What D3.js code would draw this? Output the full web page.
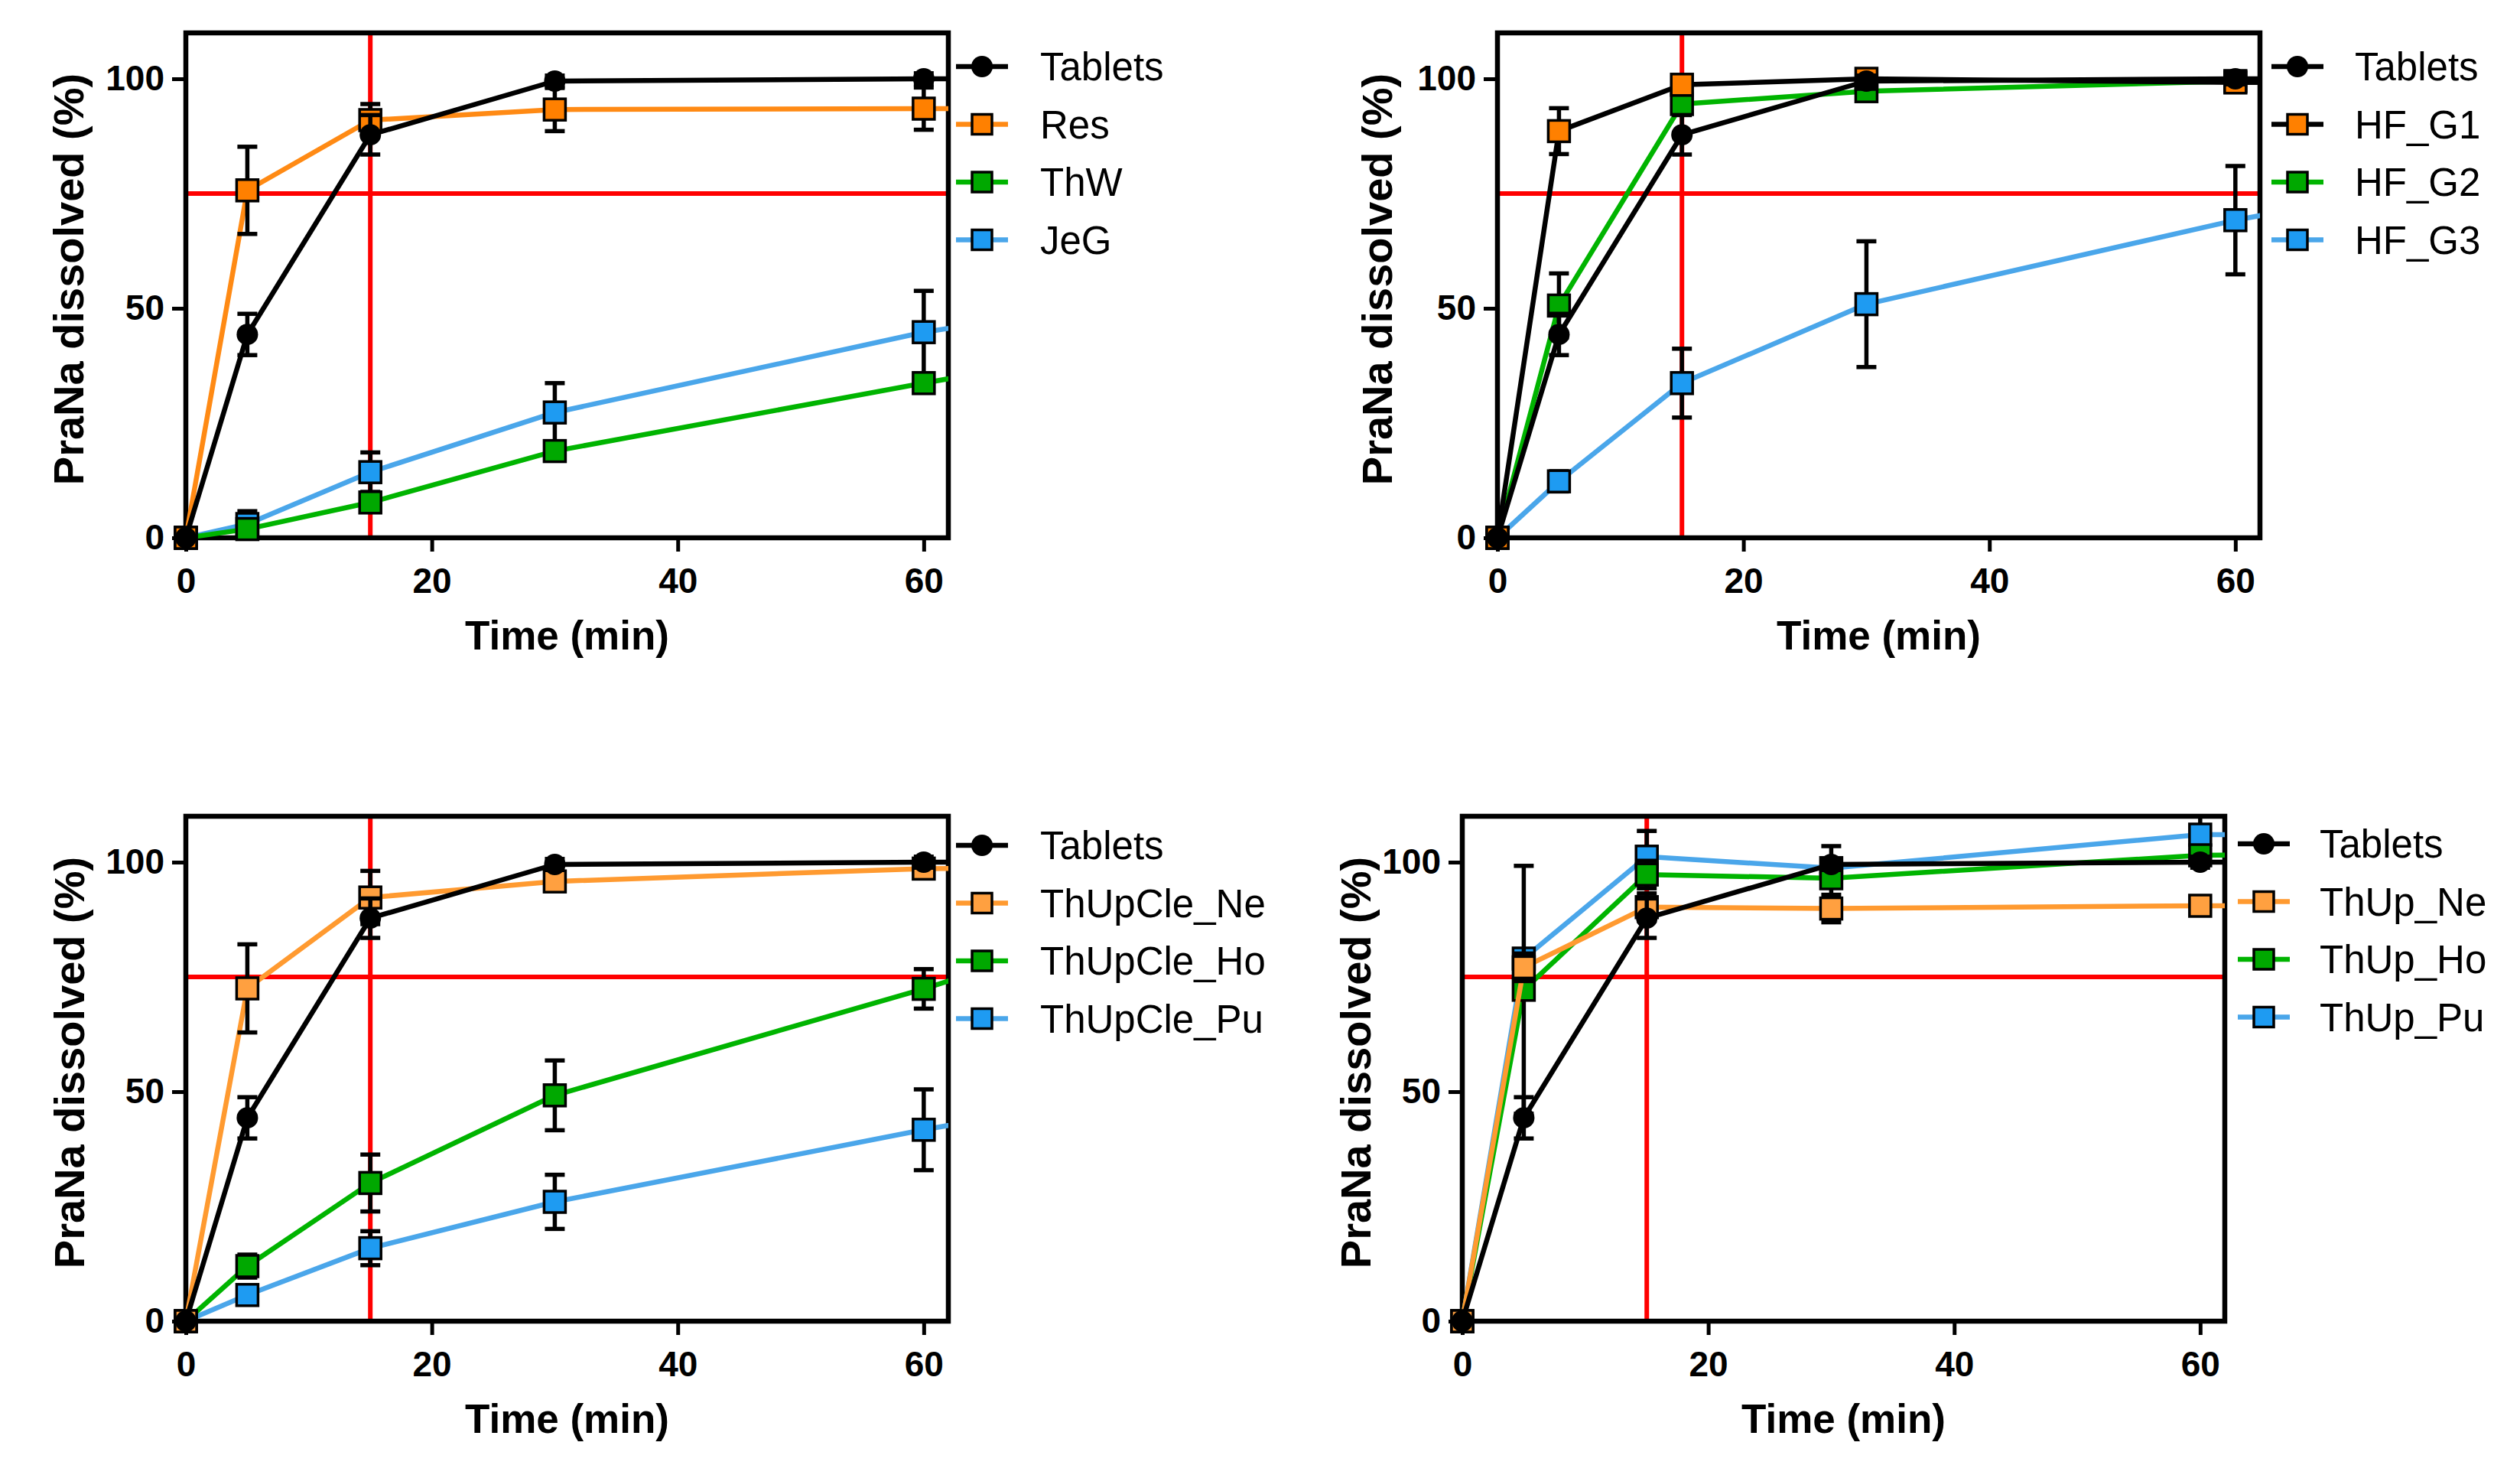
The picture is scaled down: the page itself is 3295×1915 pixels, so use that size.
<!DOCTYPE html>
<html>
<head>
<meta charset="utf-8">
<script src="https://cdn.jsdelivr.net/npm/d3@7"></script>
<style>
  body { margin: 0; background: #fff; }
  text { font-family: "Liberation Sans", Arial, sans-serif; }
</style>
</head>
<body>
<script>
// time points (min); the 90 min point lies past the axis end and only shows as a stub
var times = [0, 5, 15, 30, 60, 90];
var xTicks = [0, 20, 40, 60];
var yTicks = [0, 50, 100];

// reference tablets, same in every panel
var tabletsMean = [0, 44.3, 87.8, 99.5, 100, 100];
var tabletsErr  = [0, 4.5, 4.3, 1.2, 1.2, 0];

// panel A
var resMean = [0, 75.7, 91.0, 93.3, 93.5, 93.6];
var resErr  = [0, 9.5, 3.5, 4.7, 4.6, 0];
var thwMean = [0, 1.9, 7.7, 18.9, 33.7, 48];
var thwErr  = [0, 1.0, 2.0, 1.5, 2.0, 0];
var jegMean = [0, 3.0, 14.3, 27.3, 44.8, 57];
var jegErr  = [0, 2.8, 4.3, 6.4, 9.0, 0];

// panel B
var g1Mean = [0, 88.6, 98.7, 100, 99.2, 99.5];
var g1Err  = [0, 5.0, 1.5, 1.2, 1.0, 0];
var g2Mean = [0, 50.6, 94.5, 97.3, 99.5, 99.8];
var g2Err  = [0, 7.0, 2.0, 1.5, 1.0, 0];
var g3Mean = [0, 12.3, 33.7, 50.9, 69.2, 84];
var g3Err  = [0, 2.2, 7.5, 13.7, 11.8, 0];

// panel C
var cleNeMean = [0, 72.5, 92.3, 95.8, 98.6, 99];
var cleNeErr  = [0, 9.6, 5.8, 1.5, 1.0, 0];
var cleHoMean = [0, 12.0, 30.1, 49.2, 72.4, 98];
var cleHoErr  = [0, 2.5, 6.2, 7.6, 4.3, 0];
var clePuMean = [0, 5.7, 15.9, 26.0, 41.7, 56];
var clePuErr  = [0, 1.5, 3.7, 5.9, 8.8, 0];

// panel D
var upNeMean = [0, 77.1, 90.2, 89.9, 90.5, 90.6];
var upNeErr  = [0, 3.0, 3.0, 3.0, 2.0, 0];
var upHoMean = [0, 72.2, 97.3, 96.5, 101.5, 102];
var upHoErr  = [0, 27.0, 3.0, 7.0, 2.0, 0];
var upPuMean = [0, 79.0, 101.2, 98.7, 106, 106.2];
var upPuErr  = [0, 2.0, 5.6, 2.0, 4.0, 0];

var labelsA = ['Tablets', 'Res', 'ThW', 'JeG'];
var labelsB = ['Tablets', 'HF_G1', 'HF_G2', 'HF_G3'];
var labelsC = ['Tablets', 'ThUpCle_Ne', 'ThUpCle_Ho', 'ThUpCle_Pu'];
var labelsD = ['Tablets', 'ThUp_Ne', 'ThUp_Ho', 'ThUp_Pu'];

var fillDark  = ['#000000', '#ff8000', '#00a800', '#1e9bf2'];
var fillLight = ['#000000', '#ffa040', '#00a800', '#1e9bf2'];
var lineDark  = ['#000000', '#ff8a14', '#00b400', '#4aa6ea'];
var lineHF    = ['#000000', '#000000', '#00b400', '#4aa6ea'];
var lineLight = ['#000000', '#ff9a30', '#00b400', '#4aa6ea'];

var svgWidth = 3295;
var svgHeight = 1915;
var plotW = 997;
var plotH = 660;

var panels = [
    { left: 243, top: 43, labels: labelsA, fills: fillDark, lines: lineDark,
      means: [tabletsMean, resMean, thwMean, jegMean], errs: [tabletsErr, resErr, thwErr, jegErr],
      legX: 1250, legY: 87, legText: 1360, yLabX: 89 },
    { left: 1958, top: 43, labels: labelsB, fills: fillDark, lines: lineHF,
      means: [tabletsMean, g1Mean, g2Mean, g3Mean], errs: [tabletsErr, g1Err, g2Err, g3Err],
      legX: 2970, legY: 87, legText: 3079, yLabX: 1800 },
    { left: 243, top: 1067, labels: labelsC, fills: fillLight, lines: lineLight,
      means: [tabletsMean, cleNeMean, cleHoMean, clePuMean], errs: [tabletsErr, cleNeErr, cleHoErr, clePuErr],
      legX: 1250, legY: 1105, legText: 1360, yLabX: 90 },
    { left: 1912, top: 1067, labels: labelsD, fills: fillLight, lines: lineLight,
      means: [tabletsMean, upNeMean, upHoMean, upPuMean], errs: [tabletsErr, upNeErr, upHoErr, upPuErr],
      legX: 2926, legY: 1103, legText: 3033, yLabX: 1772 }
];

var svg = d3.select('body')
    .append('svg')
    .attr('width', svgWidth)
    .attr('height', svgHeight);

svg.append('rect')
    .attr('width', svgWidth)
    .attr('height', svgHeight)
    .attr('fill', '#fff');

var x = d3.scaleLinear().domain([0, 62]).range([0, plotW]);
var y = d3.scaleLinear().domain([0, 110]).range([plotH, 0]);

var markSize = 28;

panels.forEach(function (p, pi) {
    var g = svg.append('g').attr('transform', 'translate(' + p.left + ',' + p.top + ')');

    // clip only on the right so end markers at the origin stay whole
    var clipId = 'clip' + pi;
    svg.append('clipPath').attr('id', clipId)
        .append('rect')
        .attr('x', -60).attr('y', -60)
        .attr('width', plotW + 60).attr('height', plotH + 120);

    // axes
    var xAxis = g.append('g')
        .attr('transform', 'translate(0,' + plotH + ')')
        .call(d3.axisBottom(x).tickValues(xTicks).tickSize(18).tickPadding(21).tickSizeOuter(0));
    var yAxis = g.append('g')
        .call(d3.axisLeft(y).tickValues(yTicks).tickSize(18).tickPadding(10).tickSizeOuter(0));
    [xAxis, yAxis].forEach(function (a) {
        a.select('.domain').remove();
        a.selectAll('line').attr('stroke', '#000').attr('stroke-width', 5);
        a.selectAll('text')
            .attr('fill', '#000')
            .style('font-family', '"Liberation Sans", Arial, sans-serif')
            .style('font-size', '46px')
            .style('font-weight', 'bold');
    });

    // 75 % and 15 min reference lines
    g.append('line')
        .attr('x1', 0).attr('x2', plotW)
        .attr('y1', y(75)).attr('y2', y(75))
        .attr('stroke', '#ff0000').attr('stroke-width', 6);
    g.append('line')
        .attr('x1', x(15)).attr('x2', x(15))
        .attr('y1', 0).attr('y2', plotH)
        .attr('stroke', '#ff0000').attr('stroke-width', 6);

    // frame
    g.append('rect')
        .attr('width', plotW).attr('height', plotH)
        .attr('fill', 'none')
        .attr('stroke', '#000')
        .attr('stroke-width', 6.5);

    var data = g.append('g').attr('clip-path', 'url(#' + clipId + ')');

    var line = d3.line()
        .x(function (d) { return x(d.t); })
        .y(function (d) { return y(d.m); });

    // last series first, tablets on top
    for (var s = 3; s >= 0; s--) {
        var pts = times.map(function (t, i) { return { t: t, m: p.means[s][i], e: p.errs[s][i] }; });
        var sg = data.append('g');

        sg.append('path')
            .datum(pts)
            .attr('d', line)
            .attr('fill', 'none')
            .attr('stroke', p.lines[s])
            .attr('stroke-width', 6.5)
            .attr('stroke-linejoin', 'round');

        var eb = sg.selectAll('.err')
            .data(pts.filter(function (d) { return d.e > 0; }))
            .enter()
            .append('g')
            .attr('stroke', '#000')
            .attr('stroke-width', 5.5);
        eb.append('line')
            .attr('x1', function (d) { return x(d.t); })
            .attr('x2', function (d) { return x(d.t); })
            .attr('y1', function (d) { return y(d.m - d.e); })
            .attr('y2', function (d) { return y(d.m + d.e); });
        eb.append('line')
            .attr('x1', function (d) { return x(d.t) - 13; })
            .attr('x2', function (d) { return x(d.t) + 13; })
            .attr('y1', function (d) { return y(d.m + d.e); })
            .attr('y2', function (d) { return y(d.m + d.e); });
        eb.append('line')
            .attr('x1', function (d) { return x(d.t) - 13; })
            .attr('x2', function (d) { return x(d.t) + 13; })
            .attr('y1', function (d) { return y(d.m - d.e); })
            .attr('y2', function (d) { return y(d.m - d.e); });

        if (s === 0) {
            sg.selectAll('.mk')
                .data(pts)
                .enter()
                .append('circle')
                .attr('cx', function (d) { return x(d.t); })
                .attr('cy', function (d) { return y(d.m); })
                .attr('r', markSize / 2)
                .attr('fill', '#000');
        } else {
            sg.selectAll('.mk')
                .data(pts)
                .enter()
                .append('rect')
                .attr('x', function (d) { return x(d.t) - markSize / 2; })
                .attr('y', function (d) { return y(d.m) - markSize / 2; })
                .attr('width', markSize)
                .attr('height', markSize)
                .attr('fill', p.fills[s])
                .attr('stroke', '#000')
                .attr('stroke-width', 3.5);
        }
    }

    // axis titles
    g.append('text')
        .attr('x', plotW / 2)
        .attr('y', plotH + 146)
        .attr('text-anchor', 'middle')
        .style('font-size', '53px')
        .style('font-weight', 'bold')
        .text('Time (min)');

    svg.append('text')
        .attr('transform', 'translate(' + (p.yLabX + 20) + ',' + (p.top + plotH / 2 - 8) + ') rotate(-90)')
        .attr('text-anchor', 'middle')
        .style('font-size', '56px')
        .style('font-weight', 'bold')
        .text('PraNa dissolved (%)');

    // legend
    p.labels.forEach(function (lab, i) {
        var ly = p.legY + i * 75.5;
        var lg = svg.append('g');
        lg.append('line')
            .attr('x1', p.legX).attr('x2', p.legX + 68)
            .attr('y1', ly).attr('y2', ly)
            .attr('stroke', p.lines[i])
            .attr('stroke-width', 6.5);
        if (i === 0) {
            lg.append('circle')
                .attr('cx', p.legX + 34).attr('cy', ly)
                .attr('r', 14).attr('fill', '#000');
        } else {
            lg.append('rect')
                .attr('x', p.legX + 34 - 13).attr('y', ly - 13)
                .attr('width', 26).attr('height', 26)
                .attr('fill', p.fills[i])
                .attr('stroke', '#000')
                .attr('stroke-width', 3.5);
        }
        lg.append('text')
            .attr('x', p.legText)
            .attr('y', ly + 18)
            .style('font-size', '51px')
            .text(lab);
    });
});
</script>
</body>
</html>
